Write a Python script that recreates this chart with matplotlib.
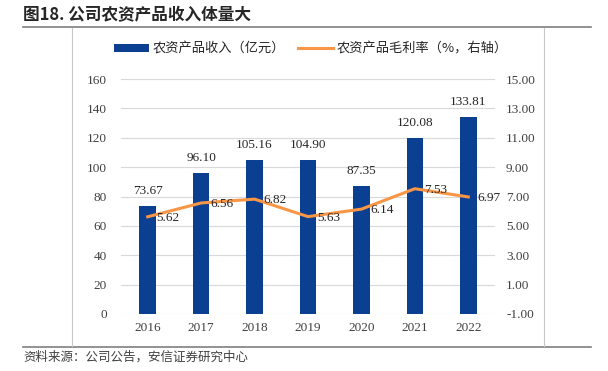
import matplotlib.pyplot as plt
import numpy as np
from matplotlib.lines import Line2D

years = ['2016', '2017', '2018', '2019', '2020', '2021', '2022']
revenue = [73.67, 96.10, 105.16, 104.90, 87.35, 120.08, 133.81]
margin = [5.62, 6.56, 6.82, 5.63, 6.14, 7.53, 6.97]
left_ticks = [0, 20, 40, 60, 80, 100, 120, 140, 160]
right_ticks = [-1, 1, 3, 5, 7, 9, 11, 13, 15]

W, H = 608, 371
blue = '#0B3F91'
orange = '#F79646'
num_font = ['Liberation Serif', 'Noto Sans CJK SC']
cjk_font = ['Noto Sans CJK SC', 'DejaVu Sans']

fig = plt.figure(figsize=(W / 100, H / 100), dpi=100)

def fx(px):
    return px / W

def fy(py):
    return 1 - py / H

# title, rules and frame
fig.text(fx(23), fy(15), '图18. 公司农资产品收入体量大', fontsize=12, fontweight='bold',
         family=cjk_font, va='center', ha='left', color='#262626')
fig.add_artist(Line2D([fx(23), fx(591)], [fy(27), fy(27)], color='#7F7F7F', lw=1.2))
fig.add_artist(Line2D([fx(23), fx(591)], [fy(347), fy(347)], color='#7F7F7F', lw=1.2))
fig.add_artist(Line2D([fx(72), fx(72)], [fy(28), fy(346)], color='#C8C8C8', lw=0.8))
fig.add_artist(Line2D([fx(544), fx(544)], [fy(28), fy(346)], color='#C8C8C8', lw=0.8))
fig.text(fx(23), fy(357), '资料来源：公司公告，安信证券研究中心', fontsize=9, style='italic',
         family=cjk_font, va='center', ha='left', color='#404040')

ax = fig.add_axes([fx(121), fy(314), fx(495) - fx(121), fy(79) - fy(314)])
x = np.arange(len(years))
bars = ax.bar(x, revenue, width=0.31, color=blue, zorder=2, label='农资产品收入（亿元）')
ax.set_xlim(-0.5, len(years) - 0.5)
ax.set_ylim(0, 160)
ax.set_yticks(left_ticks)
ax.set_xticks(x)
ax.set_xticklabels(years)
ax.grid(axis='y', color='#D9D9D9', lw=0.8, zorder=0)
for s in ax.spines.values():
    s.set_visible(False)
ax.tick_params(length=0, labelsize=9.5, colors='#404040')
ax.tick_params(axis='y', pad=10)
ax.tick_params(axis='x', pad=6)
for lab in ax.get_xticklabels() + ax.get_yticklabels():
    lab.set_family(num_font)
for xi, v in zip(x, revenue):
    ax.annotate(f'{v:.2f}', (xi, v), xytext=(0, 9), textcoords='offset pixels',
                ha='center', va='bottom', fontsize=9.5, family=num_font, color='#262626')

ax2 = ax.twinx()
ax2.plot(x, margin, color=orange, lw=2.2, zorder=3, label='农资产品毛利率（%，右轴）')
ax2.set_ylim(-1, 15)
ax2.set_yticks(right_ticks)
ax2.set_yticklabels([f'{t:.2f}' for t in right_ticks])
for s in ax2.spines.values():
    s.set_visible(False)
ax2.tick_params(length=0, labelsize=9.5, colors='#404040', pad=8)
for lab in ax2.get_yticklabels():
    lab.set_family(num_font)
for xi, v in zip(x, margin):
    ax2.annotate(f'{v:.2f}', (xi, v), xytext=(9, -1), textcoords='offset pixels',
                 ha='left', va='center', fontsize=9.5, family=num_font, color='#262626')

handles = [bars, ax2.get_lines()[0]]
leg = fig.legend(handles, [h.get_label() for h in handles], loc='center',
                 bbox_to_anchor=(fx(311), fy(49)), ncol=2, frameon=False,
                 prop={'family': cjk_font, 'size': 9.5}, handlelength=2.6,
                 handleheight=0.5, handletextpad=0.3, columnspacing=1.0)
for t in leg.get_texts():
    t.set_color('#262626')

fig.savefig('out.png', dpi=100)
